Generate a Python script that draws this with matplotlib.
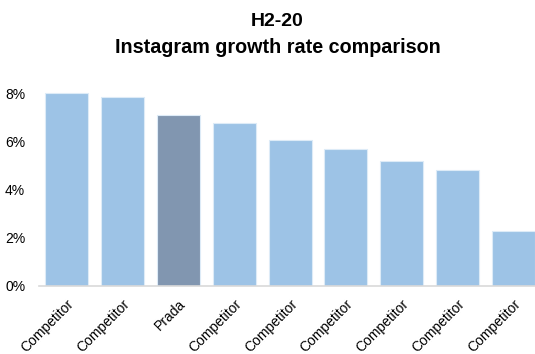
import matplotlib.pyplot as plt
from matplotlib.ticker import PercentFormatter

plt.rcParams['font.family'] = ['Liberation Sans', 'DejaVu Sans']

brands = ["Competitor", "Competitor", "Prada", "Competitor", "Competitor",
          "Competitor", "Competitor", "Competitor", "Competitor"]
growth = [8.0, 7.87, 7.12, 6.75, 6.08, 5.7, 5.17, 4.83, 2.29]
highlight = "Prada"

colors = ["#8196B0" if b == highlight else "#9DC3E6" for b in brands]

fig = plt.figure(figsize=(5.35, 3.54), dpi=100)
ax = fig.add_axes([0.073, 0.193, 0.927, 0.577])

ax.bar(range(len(growth)), growth, width=0.77, color=colors,
       edgecolor="#DDEBF7", linewidth=0.8)

ax.set_xlim(-0.5, 8.39)
ax.set_ylim(0, 8.5)
ax.set_yticks([0, 2, 4, 6, 8])
ax.yaxis.set_major_formatter(PercentFormatter(decimals=0))
ax.set_xticks(range(len(brands)))
ax.set_xticklabels(brands, rotation=45, ha="right", rotation_mode="anchor",
                   fontsize=10)
ax.tick_params(axis="y", length=0, labelsize=10, pad=10)
ax.tick_params(axis="x", length=0, pad=8)

for side in ["top", "right", "left"]:
    ax.spines[side].set_visible(False)
ax.spines["bottom"].set_color("#D9D9D9")
ax.spines["bottom"].set_linewidth(1.2)

fig.text(0.518, 0.94, "H2-20", ha="center", va="center",
         fontsize=14, fontweight="bold")
fig.text(0.52, 0.865, "Instagram growth rate comparison", ha="center",
         va="center", fontsize=14.2, fontweight="bold")

fig.savefig("out.png", dpi=100)
